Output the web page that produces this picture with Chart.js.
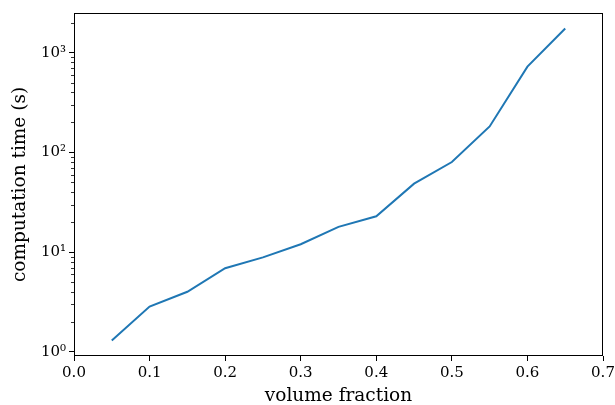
<!DOCTYPE html>
<html>
<head>
<meta charset="utf-8">
<script src="https://cdn.jsdelivr.net/npm/chart.js@4"></script>
<style>
html, body { margin: 0; padding: 0; background: #fff; }
</style>
</head>
<body>
<canvas id="timeChart" width="615" height="405"></canvas>
<script>
var volumeFraction = [0.05, 0.10, 0.15, 0.20, 0.25, 0.30, 0.35, 0.40, 0.45, 0.50, 0.55, 0.60, 0.65];
var computeTime = [1.3, 2.84, 4.0, 6.9, 8.85, 12.0, 17.9, 22.9, 48.6, 80, 182, 724, 1750];
var xTicks = [0.0, 0.1, 0.2, 0.3, 0.4, 0.5, 0.6, 0.7];
var yTicks = [1, 10, 100, 1000];

var sup = ['\u2070', '\u00B9', '\u00B2', '\u00B3'];
var serif = "'DejaVu Serif', serif";

// frame + minor log ticks, matplotlib style
var framePlugin = {
    id: 'frame',
    afterDraw: function (chart) {
        var ctx = chart.ctx, a = chart.chartArea, y = chart.scales.y;
        ctx.save();
        ctx.strokeStyle = '#000';
        ctx.lineWidth = 1;
        ctx.strokeRect(Math.round(a.left) + 0.5, Math.round(a.top) + 0.5,
            Math.round(a.right - a.left) - 1, Math.round(a.bottom - a.top) - 1);
        ctx.lineWidth = 0.8;
        for (var k = -1; k <= 3; k++) {
            for (var m = 2; m <= 9; m++) {
                var v = m * Math.pow(10, k);
                if (v < y.min || v > y.max) continue;
                var py = Math.round(y.getPixelForValue(v)) + 0.5;
                ctx.beginPath();
                ctx.moveTo(a.left - 3, py);
                ctx.lineTo(a.left, py);
                ctx.stroke();
            }
        }
        ctx.restore();
    }
};

var ctx = document.getElementById("timeChart");

var timeChart = new Chart(ctx, {
    type: 'line',
    data: {
        datasets: [{
            label: 'computation time',
            data: volumeFraction.map(function (x, i) { return { x: x, y: computeTime[i] }; }),
            borderColor: '#1f77b4',
            borderWidth: 2,
            pointRadius: 0,
            fill: false,
            tension: 0
        }]
    },
    options: {
        responsive: false,
        animation: false,
        devicePixelRatio: 1,
        layout: { padding: { left: 0, top: 13, right: 12, bottom: 0 } },
        plugins: { legend: { display: false }, tooltip: { enabled: false } },
        scales: {
            x: {
                type: 'linear',
                min: 0,
                max: 0.7,
                afterBuildTicks: function (s) { s.ticks = xTicks.map(function (v) { return { value: v }; }); },
                afterFit: function (s) { s.height = 49; s.paddingLeft = 0; s.paddingRight = 0; },
                ticks: {
                    callback: function (v) { return v.toFixed(1); },
                    font: { family: serif, size: 15 },
                    color: '#000',
                    padding: 3,
                    maxRotation: 0
                },
                grid: { drawOnChartArea: false, tickLength: 5, tickColor: '#000', tickWidth: 1 },
                border: { display: false },
                title: {
                    display: true,
                    text: 'volume fraction',
                    font: { family: serif, size: 18.5 },
                    color: '#000',
                    padding: { top: 0, bottom: -2 }
                }
            },
            y: {
                type: 'logarithmic',
                min: 0.908,
                max: 2500,
                afterBuildTicks: function (s) { s.ticks = yTicks.map(function (v) { return { value: v, major: true }; }); },
                afterFit: function (s) { s.width = 74; s.paddingTop = 0; s.paddingBottom = 0; },
                ticks: {
                    callback: function (v) { return '10' + sup[Math.round(Math.log10(v))]; },
                    font: { family: serif, size: 15 },
                    color: '#000',
                    padding: 3
                },
                grid: { drawOnChartArea: false, tickLength: 5, tickColor: '#000', tickWidth: 1 },
                border: { display: false },
                title: {
                    display: true,
                    text: 'computation time (s)',
                    font: { family: serif, size: 18.5 },
                    color: '#000',
                    padding: { top: 9, bottom: 0 }
                }
            }
        }
    },
    plugins: [framePlugin]
});
</script>
</body>
</html>
